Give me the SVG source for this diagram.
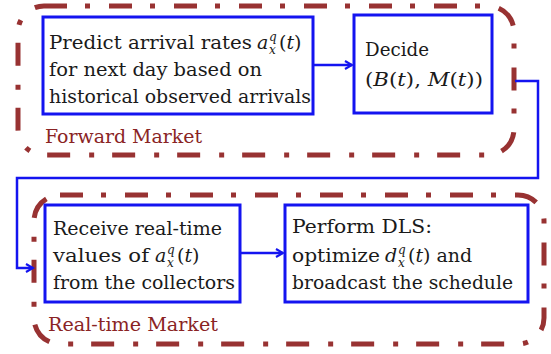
<svg xmlns="http://www.w3.org/2000/svg" width="551" height="354" viewBox="0 0 551 354">
<style>
.region{fill:none;stroke:#983232;stroke-width:5;stroke-dasharray:23 18 5 19}
.box{fill:#fff;stroke:#1414f0;stroke-width:3}
text{font-family:'DejaVu Serif','Liberation Serif',serif;font-size:19px;fill:#1a1a1a}
.i{font-style:italic}
.s{font-size:12px;font-style:italic}
.lbl{fill:#8a2424}
.c{fill:none;stroke:#1414f0;stroke-width:2.5;marker-end:url(#ah)}
</style>
<defs>
<marker id="ah" markerWidth="10" markerHeight="10" refX="8" refY="5" orient="auto" markerUnits="userSpaceOnUse">
<path d="M1,1 L8,5 L1,9" fill="none" stroke="#1414f0" stroke-width="2.2"/>
</marker>
</defs>
<g id="forward-market">
<rect class="region" x="18" y="6" width="496" height="149" rx="26"/>
<text class="lbl" x="45" y="143" textLength="157" lengthAdjust="spacingAndGlyphs">Forward Market</text>
</g>
<g id="realtime-market">
<rect class="region" x="34" y="195" width="510" height="149" rx="26"/>
<text class="lbl" x="48" y="331" textLength="170" lengthAdjust="spacingAndGlyphs">Real-time Market</text>
</g>
<g id="connectors">
<path class="c" d="M313,65 H352"/>
<path class="c" d="M515,81 H538 V178 H17 V268 H33"/>
<path class="c" d="M240,253 H283"/>
</g>
<g id="predict">
<rect class="box" x="43" y="17" width="270" height="97"/>
<text x="49" y="49"><tspan textLength="203" lengthAdjust="spacingAndGlyphs">Predict arrival rates</tspan><tspan class="i" x="257">a</tspan><tspan class="s" x="269" dy="-8">q</tspan><tspan class="s" x="269" dy="13">x</tspan><tspan x="279" dy="-5">(</tspan><tspan class="i">t</tspan>)</text>
<text x="49" y="76" textLength="213" lengthAdjust="spacingAndGlyphs">for next day based on</text>
<text x="49" y="103" textLength="262" lengthAdjust="spacingAndGlyphs">historical observed arrivals</text>
</g>
<g id="decide">
<rect class="box" x="354" y="15" width="138" height="98"/>
<text x="365" y="56" textLength="64" lengthAdjust="spacingAndGlyphs">Decide</text>
<text x="365" y="86" textLength="118" lengthAdjust="spacingAndGlyphs">(<tspan class="i">B</tspan>(<tspan class="i">t</tspan>), <tspan class="i">M</tspan>(<tspan class="i">t</tspan>))</text>
</g>
<g id="receive">
<rect class="box" x="45" y="205" width="195" height="97"/>
<text x="53" y="235" textLength="169" lengthAdjust="spacingAndGlyphs">Receive real-time</text>
<text x="53" y="262"><tspan textLength="96" lengthAdjust="spacingAndGlyphs">values of</tspan><tspan class="i" x="155">a</tspan><tspan class="s" x="167" dy="-8">q</tspan><tspan class="s" x="167" dy="13">x</tspan><tspan x="177" dy="-5">(</tspan><tspan class="i">t</tspan>)</text>
<text x="53" y="289" textLength="182" lengthAdjust="spacingAndGlyphs">from the collectors</text>
</g>
<g id="perform">
<rect class="box" x="285" y="205" width="243" height="97"/>
<text x="292" y="233" textLength="140" lengthAdjust="spacingAndGlyphs">Perform DLS:</text>
<text x="292" y="262"><tspan textLength="88" lengthAdjust="spacingAndGlyphs">optimize</tspan><tspan class="i" x="385">d</tspan><tspan class="s" x="398" dy="-8">q</tspan><tspan class="s" x="398" dy="13">x</tspan><tspan x="408" dy="-5">(</tspan><tspan class="i">t</tspan>) and</text>
<text x="292" y="289" textLength="221" lengthAdjust="spacingAndGlyphs">broadcast the schedule</text>
</g>
</svg>
